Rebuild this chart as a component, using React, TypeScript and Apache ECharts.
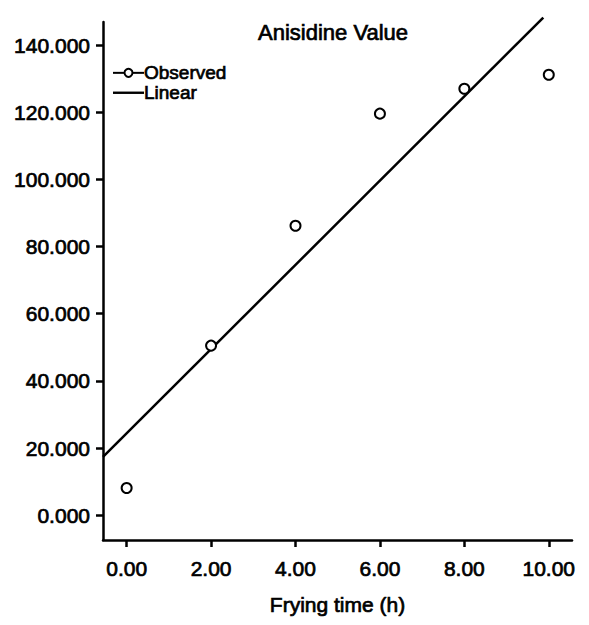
import React, { useEffect, useRef } from "react";
import * as echarts from "echarts";

const xValues = [0, 2, 4, 6, 8, 10];
const observed = [8.1, 50.5, 86.2, 119.6, 127.0, 131.2];
const xTicks = [0, 2, 4, 6, 8, 10];
const yTicks = [0, 20, 40, 60, 80, 100, 120, 140];
const xRange = [-0.56, 10.55];
const yRange = [-7.4, 146.9];
const fitEndX = 9.87;

function linearFit(xs: number[], ys: number[]) {
  const n = xs.length;
  const mx = xs.reduce((a, b) => a + b, 0) / n;
  const my = ys.reduce((a, b) => a + b, 0) / n;
  let sxy = 0;
  let sxx = 0;
  for (let i = 0; i < n; i++) {
    sxy += (xs[i] - mx) * (ys[i] - my);
    sxx += (xs[i] - mx) * (xs[i] - mx);
  }
  const slope = sxy / sxx;
  return { slope, intercept: my - slope * mx };
}

const FONT = "'Liberation Sans', Arial, Helvetica, sans-serif";
const heavy = { textBorderColor: "#000", textBorderWidth: 0.7 };

export default function App() {
  const ref = useRef<HTMLDivElement>(null);
  useEffect(() => {
    document.body.style.margin = "0";
    const chart = echarts.init(ref.current!, null, { renderer: "svg" });
    const fit = linearFit(xValues, observed);
    const fitData = [xRange[0], fitEndX].map((x) => [x, fit.intercept + fit.slope * x]);
    chart.setOption({
      animation: false,
      backgroundColor: "#fff",
      grid: { left: 103, right: 17, top: 22, bottom: 85, containLabel: false },
      graphic: [
        {
          type: "text",
          x: 333,
          y: 32,
          style: {
            text: "Anisidine Value",
            textAlign: "center",
            textVerticalAlign: "middle",
            fontSize: 22,
            fontFamily: FONT,
            fill: "#000",
            stroke: "#000",
            lineWidth: 0.7,
          },
        },
      ],
      legend: {
        orient: "vertical",
        left: 107,
        top: 58,
        padding: [5, 5, 5, 5],
        itemWidth: 31,
        itemHeight: 10,
        itemGap: 0,
        textStyle: {
          fontSize: 19,
          lineHeight: 19,
          fontFamily: FONT,
          color: "#000",
          padding: [0, 0, 0, -5],
          ...heavy,
        },
        data: [
          { name: "Observed", lineStyle: { opacity: 1, width: 2, color: "#000" } },
          { name: "Linear", icon: "path://M0,0 M0,10 M0,4 L31,4 L31,6.4 L0,6.4 Z" },
        ],
      },
      xAxis: {
        type: "value",
        min: xRange[0],
        max: xRange[1],
        name: "Frying time (h)",
        nameLocation: "middle",
        nameGap: 54,
        nameTextStyle: { fontSize: 21, fontFamily: FONT, color: "#000", ...heavy },
        splitLine: { show: false },
        axisLine: { show: true, onZero: false, lineStyle: { color: "#000", width: 2.5 } },
        axisTick: { show: true, length: 7, lineStyle: { color: "#000", width: 2.5 }, customValues: xTicks },
        axisLabel: {
          fontSize: 21,
          fontFamily: FONT,
          color: "#000",
          margin: 18,
          customValues: xTicks,
          formatter: (v: number) => v.toFixed(2),
          ...heavy,
        },
      },
      yAxis: {
        type: "value",
        min: yRange[0],
        max: yRange[1],
        splitLine: { show: false },
        axisLine: { show: true, onZero: false, lineStyle: { color: "#000", width: 2.5 } },
        axisTick: { show: true, length: 7, lineStyle: { color: "#000", width: 2.5 }, customValues: yTicks },
        axisLabel: {
          fontSize: 21,
          fontFamily: FONT,
          color: "#000",
          margin: 13,
          customValues: yTicks,
          formatter: (v: number) => v.toFixed(3),
          ...heavy,
        },
      },
      series: [
        {
          name: "Observed",
          type: "line",
          data: xValues.map((x, i) => [x, observed[i]]),
          symbol: "emptyCircle",
          symbolSize: 10,
          showSymbol: true,
          itemStyle: { color: "#000", borderColor: "#000", borderWidth: 2.2 },
          lineStyle: { opacity: 0, width: 0 },
          z: 3,
        },
        {
          name: "Linear",
          type: "line",
          data: fitData,
          symbol: "none",
          showSymbol: false,
          clip: false,
          itemStyle: { color: "#000" },
          lineStyle: { color: "#000", width: 2.5 },
          z: 2,
        },
      ],
    });
    return () => chart.dispose();
  }, []);
  return <div ref={ref} style={{ position: "absolute", left: 0, top: 0, width: 589, height: 625 }} />;
}
